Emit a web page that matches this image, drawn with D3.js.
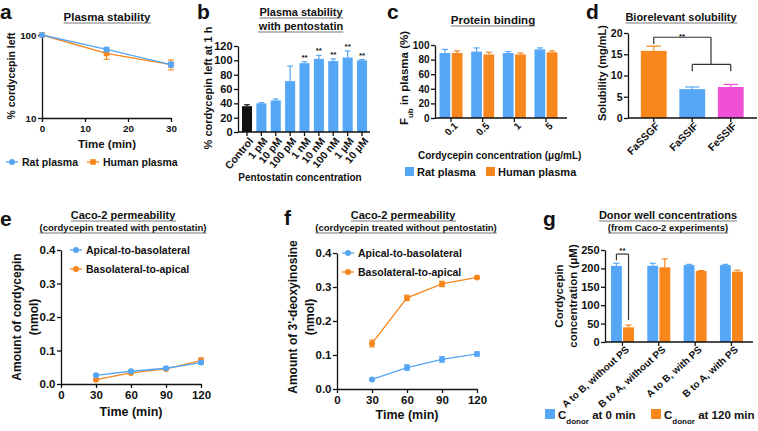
<!DOCTYPE html>
<html lang="en">
<head>
  <meta charset="UTF-8">
  <title>Cordycepin panels</title>
  <script src="https://d3js.org/d3.v7.min.js"></script>
  <style>
    body { margin: 0; background: #fff; }
    text { font-family: "Liberation Sans", Arial, sans-serif; font-weight: bold; fill: #111; }
  </style>
</head>
<body>
<script>
var W = 758, H = 431;
var blue = "#55a7f6", orange = "#f7861c", pink = "#f050d6";

// a - plasma stability
var aTime = [0, 15, 30];
var aRat = [100, 67, 44], aRatErr = [0, 4, 3];
var aHuman = [100, 60, 44], aHumanErr = [0, 9, 6];

// b - plasma stability with pentostatin
var bCats = ["Control", "1 pM", "10 pM", "100 pM", "1 nM", "10 nM", "100 nM", "1 \u03bcM", "10 \u03bcM"];
var bVals = [36, 40, 44, 71, 96, 102, 99, 104, 100];
var bErr = [2, 1, 2, 21, 2, 5, 3, 9, 1];
var bStars = [0, 0, 0, 0, 1, 1, 1, 1, 1];

// c - protein binding
var cConc = ["0.1", "0.5", "1", "5"];
var cRat = [89, 91, 89, 94], cRatErr = [5, 5, 2, 2];
var cHuman = [89, 87, 87, 90], cHumanErr = [3, 3, 2, 2];

// d - biorelevant solubility
var dMedia = ["FaSSGF", "FaSSIF", "FeSSIF"];
var dVals = [15.8, 6.8, 7.3], dErr = [1.1, 0.5, 0.6];

// e, f - caco-2
var cacoTime = [30, 60, 90, 120];
var eAB = [0.026, 0.038, 0.047, 0.064], eABErr = [0.003, 0.003, 0.003, 0.004];
var eBA = [0.013, 0.033, 0.045, 0.070], eBAErr = [0.003, 0.003, 0.003, 0.008];
var fAB = [0.028, 0.063, 0.087, 0.103], fABErr = [0.003, 0.008, 0.008, 0.006];
var fBA = [0.134, 0.268, 0.309, 0.328], fBAErr = [0.010, 0.008, 0.008, 0.003];

// g - donor well concentrations
var gGroups = ["A to B, without PS", "B to A, without PS", "A to B, with PS", "B to A, with PS"];
var g0 = [207, 207, 209, 209], g0Err = [7, 7, 2, 2];
var g120 = [40, 203, 193, 191], g120Err = [6, 23, 1, 4];

var svg = d3.select("body").append("svg").attr("width", W).attr("height", H);

function txt(x, y, s, size, anchor, rot) {
  var t = svg.append("text").attr("x", x).attr("y", y)
    .attr("font-size", size).attr("text-anchor", anchor || "middle").text(s);
  if (rot) t.attr("transform", "rotate(" + rot + "," + x + "," + y + ")");
  return t;
}
function underline(t) {
  var b = t.node().getBBox();
  var y = +t.attr("y") + 2;
  svg.append("line").attr("x1", b.x).attr("x2", b.x + b.width).attr("y1", y).attr("y2", y)
    .attr("stroke", "#555").attr("stroke-width", 0.8);
}
function title(x, y, s, size) { underline(txt(x, y, s, size)); }
function line(x1, y1, x2, y2, c, w) {
  svg.append("line").attr("x1", x1).attr("y1", y1).attr("x2", x2).attr("y2", y2)
    .attr("stroke", c || "#111").attr("stroke-width", w || 1.3);
}
function styleAxis(g, size) {
  g.selectAll("text").attr("font-size", size).style("fill", "#111");
  g.selectAll("line, path").attr("stroke", "#111").attr("stroke-width", 1.3);
  g.attr("font-family", null);
  return g;
}
function yAxis(scale, x, vals, fmt, size) {
  var g = svg.append("g").attr("transform", "translate(" + x + ",0)")
    .call(d3.axisLeft(scale).tickValues(vals).tickFormat(fmt).tickSize(4).tickSizeOuter(0).tickPadding(1.5));
  return styleAxis(g, size);
}
function xAxis(scale, y, vals, size) {
  var g = svg.append("g").attr("transform", "translate(0," + y + ")")
    .call(d3.axisBottom(scale).tickValues(vals).tickSize(4).tickSizeOuter(0).tickPadding(3));
  return styleAxis(g, size);
}
function bandAxis(scale, y, x0, x1, size, rot, dx, dy) {
  var g = svg.append("g").attr("transform", "translate(0," + y + ")")
    .call(d3.axisBottom(scale).tickSize(4).tickSizeOuter(0));
  g.select(".domain").remove();
  styleAxis(g, size);
  g.selectAll(".tick text").attr("text-anchor", "end").attr("x", dx).attr("y", dy).attr("dy", "0.35em")
    .attr("transform", "rotate(" + rot + "," + dx + "," + dy + ")");
  line(x0, y, x1, y);
  return g;
}
function bars(xs, ys, vals, errs, color, w) {
  vals.forEach(function(v, i) {
    var c = typeof color === "function" ? color(i) : color;
    var cx = xs(i), top = ys(v), et = ys(v + errs[i]);
    svg.append("rect").attr("x", cx - w / 2).attr("y", top).attr("width", w)
      .attr("height", ys(0) - top).attr("fill", c);
    line(cx, top, cx, et, c, 1.2);
    line(cx - w * 0.28, et, cx + w * 0.28, et, c, 1.2);
  });
}
function marker(x, y, color, shape) {
  if (shape === "square") svg.append("rect").attr("x", x - 2.8).attr("y", y - 2.8).attr("width", 5.6).attr("height", 5.6).attr("fill", color);
  else svg.append("circle").attr("cx", x).attr("cy", y).attr("r", 3).attr("fill", color);
}
function series(xs, ys, xv, vals, errs, color, shape) {
  var ln = d3.line().x(function(d, i) { return xs(xv[i]); }).y(function(d) { return ys(d); });
  svg.append("path").datum(vals).attr("d", ln).attr("fill", "none").attr("stroke", color).attr("stroke-width", 1.3);
  vals.forEach(function(v, i) {
    var x = xs(xv[i]);
    if (errs[i] > 0) {
      var y1 = ys(v - errs[i]), y2 = ys(v + errs[i]);
      line(x, y1, x, y2, color, 1.1);
      line(x - 3, y1, x + 3, y1, color, 1.1);
      line(x - 3, y2, x + 3, y2, color, 1.1);
    }
    marker(x, ys(v), color, shape);
  });
}
function lineLegend(x, y, s, color, shape, size) {
  line(x - 6, y, x + 6, y, color, 1.3);
  marker(x, y, color, shape);
  txt(x + 10, y + 4, s, size, "start");
}

// ---------- a ----------
txt(0, 19, "a", 21, "start");
title(107, 21, "Plasma stability", 11.5);
var ax = d3.scaleLinear().domain([0, 30]).range([42, 171]);
var ay = d3.scaleLog().domain([10, 100]).range([118, 35]);
yAxis(ay, 42, [10, 100], d3.format("d"), 9.8);
xAxis(ax, 118, [0, 10, 20, 30], 9.8);
series(ax, ay, aTime, aHuman, aHumanErr, orange, "square");
series(ax, ay, aTime, aRat, aRatErr, blue, "circle");
txt(11, 76, "% cordycepin left", 10.5, "middle", -90).attr("dy", "0.35em");
txt(107, 148, "Time (min)", 11.5);
lineLegend(12, 162, "Rat plasma", blue, "circle", 10.5);
lineLegend(93, 162, "Human plasma", orange, "square", 10.5);

// ---------- b ----------
txt(197, 19, "b", 21, "start");
title(301, 16, "Plasma stability", 11);
title(301, 30, "with pentostatin", 11);
var bx = d3.scaleBand().domain(bCats).range([239.8, 369.2]).paddingInner(0.3).paddingOuter(0.15);
var by = d3.scaleLinear().domain([0, 120]).range([132, 46]);
yAxis(by, 238, [0, 20, 40, 60, 80, 100, 120], d3.format("d"), 11);
bars(function(i) { return bx(bCats[i]) + bx.bandwidth() / 2; }, by, bVals, bErr,
  function(i) { return i === 0 ? "#111" : blue; }, bx.bandwidth());
bandAxis(bx, 132, 238, 370, 10.5, -50, 4, 7);
bVals.forEach(function(v, i) {
  if (bStars[i]) txt(bx(bCats[i]) + bx.bandwidth() / 2, by(v + bErr[i]) - 2, "**", 8);
});
txt(208, 88, "% cordycepin left at 1 h", 11, "middle", -90).attr("dy", "0.35em");
txt(300, 181, "Pentostatin concentration", 10);

// ---------- c ----------
txt(387, 19, "c", 21, "start");
title(493, 24, "Protein binding", 11.5);
var cx0 = d3.scaleBand().domain(cConc).range([435.2, 561.8]);
var cx1 = d3.scaleBand().domain(["rat", "human"]).range([-11.5, 11.5]).paddingInner(0.12);
var cy = d3.scaleLinear().domain([0, 100]).range([118, 45]);
yAxis(cy, 435, [0, 20, 40, 60, 80, 100], d3.format("d"), 10);
var cMid = function(i) { return cx0(cConc[i]) + cx0.bandwidth() / 2; };
bars(function(i) { return cMid(i) + cx1("rat") + cx1.bandwidth() / 2; }, cy, cRat, cRatErr, blue, cx1.bandwidth());
bars(function(i) { return cMid(i) + cx1("human") + cx1.bandwidth() / 2; }, cy, cHuman, cHumanErr, orange, cx1.bandwidth());
bandAxis(cx0, 118, 435, 567, 10, -45, 5, 6);
var cyl = txt(404, 78, "", 11.5, "middle", -90).attr("dy", "0.35em");
cyl.append("tspan").text("F");
cyl.append("tspan").text("ub").attr("font-size", 8).attr("baseline-shift", "sub");
cyl.append("tspan").text(" in plasma (%)");
txt(418, 159, "Cordycepin concentration (\u03bcg/mL)", 10, "start");
svg.append("rect").attr("x", 405).attr("y", 167).attr("width", 9).attr("height", 9).attr("fill", blue);
txt(417, 176, "Rat plasma", 11, "start");
svg.append("rect").attr("x", 486).attr("y", 167).attr("width", 9).attr("height", 9).attr("fill", orange);
txt(498, 176, "Human plasma", 11, "start");

// ---------- d ----------
txt(586, 19, "d", 21, "start");
title(681, 21, "Biorelevant solubility", 11);
var dx = d3.scaleBand().domain(dMedia).range([634.5, 750]).paddingInner(0.33).paddingOuter(0.165);
var dy = d3.scaleLinear().domain([0, 20]).range([118, 33]);
var dColors = [orange, blue, pink];
yAxis(dy, 628, [0, 5, 10, 15, 20], d3.format("d"), 10.5);
var dMid = function(i) { return dx(dMedia[i]) + dx.bandwidth() / 2; };
bars(dMid, dy, dVals, dErr, function(i) { return dColors[i]; }, dx.bandwidth());
bandAxis(dx, 118, 628, 757, 10.5, -45, 4, 6);
// significance bracket
var dTop = dy(19), dMidY = dy(12.6);
line(dMid(0), dy(17.4), dMid(0), dTop, "#333", 1.2);
line(dMid(0), dTop, 711, dTop, "#333", 1.2);
line(711, dTop, 711, dMidY, "#333", 1.2);
line(dMid(1), dMidY, dMid(2), dMidY, "#333", 1.2);
line(dMid(1), dMidY, dMid(1), dy(11), "#333", 1.2);
line(dMid(2), dMidY, dMid(2), dy(11), "#333", 1.2);
txt(682, dTop + 2, "**", 8);
txt(602, 73, "Solubility (mg/mL)", 11, "middle", -90).attr("dy", "0.35em");

// ---------- e ----------
txt(0, 226, "e", 21, "start");
title(123, 219, "Caco-2 permeability", 11);
title(123, 231, "(cordycepin treated with pentostatin)", 9.5);
var ex = d3.scaleLinear().domain([0, 120]).range([61, 201]);
var ey = d3.scaleLinear().domain([0, 0.4]).range([384, 250]);
yAxis(ey, 61, [0, 0.1, 0.2, 0.3, 0.4], d3.format(".1f"), 11.5);
xAxis(ex, 384, [0, 30, 60, 90, 120], 11.5);
series(ex, ey, cacoTime, eBA, eBAErr, orange, "circle");
series(ex, ey, cacoTime, eAB, eABErr, blue, "circle");
lineLegend(76, 250, "Apical-to-basolateral", blue, "circle", 10.5);
lineLegend(76, 269, "Basolateral-to-apical", orange, "circle", 10.5);
txt(17, 317, "Amount of cordycepin", 12, "middle", -90).attr("dy", "0.35em");
txt(34, 317, "(nmol)", 12, "middle", -90).attr("dy", "0.35em");
txt(131, 416, "Time (min)", 12.5);

// ---------- f ----------
txt(284, 225, "f", 21, "start");
title(403, 219, "Caco-2 permeability", 11);
title(406, 231, "(cordycepin treated without pentostatin)", 9.5);
var fx = d3.scaleLinear().domain([0, 120]).range([337, 477]);
var fy = d3.scaleLinear().domain([0, 0.4]).range([389, 253]);
yAxis(fy, 337, [0, 0.1, 0.2, 0.3, 0.4], d3.format(".1f"), 11.5);
xAxis(fx, 389, [0, 30, 60, 90, 120], 11.5);
series(fx, fy, cacoTime, fBA, fBAErr, orange, "circle");
series(fx, fy, cacoTime, fAB, fABErr, blue, "circle");
lineLegend(348, 253, "Apical-to-basolateral", blue, "circle", 10.5);
lineLegend(348, 272, "Basolateral-to-apical", orange, "circle", 10.5);
txt(293, 317, "Amount of 3'-deoxyinosine", 12, "middle", -90).attr("dy", "0.35em");
txt(310, 317, "(nmol)", 12, "middle", -90).attr("dy", "0.35em");
txt(407, 419, "Time (min)", 12.5);

// ---------- g ----------
txt(543, 226, "g", 21, "start");
title(668, 219, "Donor well concentrations", 11);
title(668, 231, "(from Caco-2 experiments)", 9.5);
var gx0 = d3.scaleBand().domain(gGroups).range([604.3, 749.6]);
var gx1 = d3.scaleBand().domain(["t0", "t120"]).range([-11.5, 11.5]).paddingInner(0.1);
var gy = d3.scaleLinear().domain([0, 250]).range([342, 250]);
yAxis(gy, 605, [0, 50, 100, 150, 200, 250], d3.format("d"), 11);
var gMid = function(i) { return gx0(gGroups[i]) + gx0.bandwidth() / 2; };
var gA = function(i) { return gMid(i) + gx1("t0") + gx1.bandwidth() / 2; };
var gB = function(i) { return gMid(i) + gx1("t120") + gx1.bandwidth() / 2; };
bars(gA, gy, g0, g0Err, blue, gx1.bandwidth());
bars(gB, gy, g120, g120Err, orange, gx1.bandwidth());
bandAxis(gx0, 342, 605, 753, 10, -42, 5, 6);
var gTop = gy(239);
line(gA(0), gy(222), gA(0), gTop, "#333", 1.2);
line(gA(0), gTop, gB(0), gTop, "#333", 1.2);
line(gB(0), gTop, gB(0), gy(60), "#333", 1.2);
txt((gA(0) + gB(0)) / 2, gTop - 1, "**", 8);
txt(559, 296, "Cordycepin", 11.5, "middle", -90).attr("dy", "0.35em");
txt(573, 296, "concentration (\u03bcM)", 11.5, "middle", -90).attr("dy", "0.35em");
[[545, blue, "0 min"], [651, orange, "120 min"]].forEach(function(l) {
  svg.append("rect").attr("x", l[0]).attr("y", 409).attr("width", 10).attr("height", 10).attr("fill", l[1]);
  var t = txt(l[0] + 13, 419, "", 11.5, "start");
  t.append("tspan").text("C");
  t.append("tspan").text("donor").attr("font-size", 8).attr("baseline-shift", "sub");
  t.append("tspan").text(" at " + l[2]);
});
</script>
</body>
</html>
